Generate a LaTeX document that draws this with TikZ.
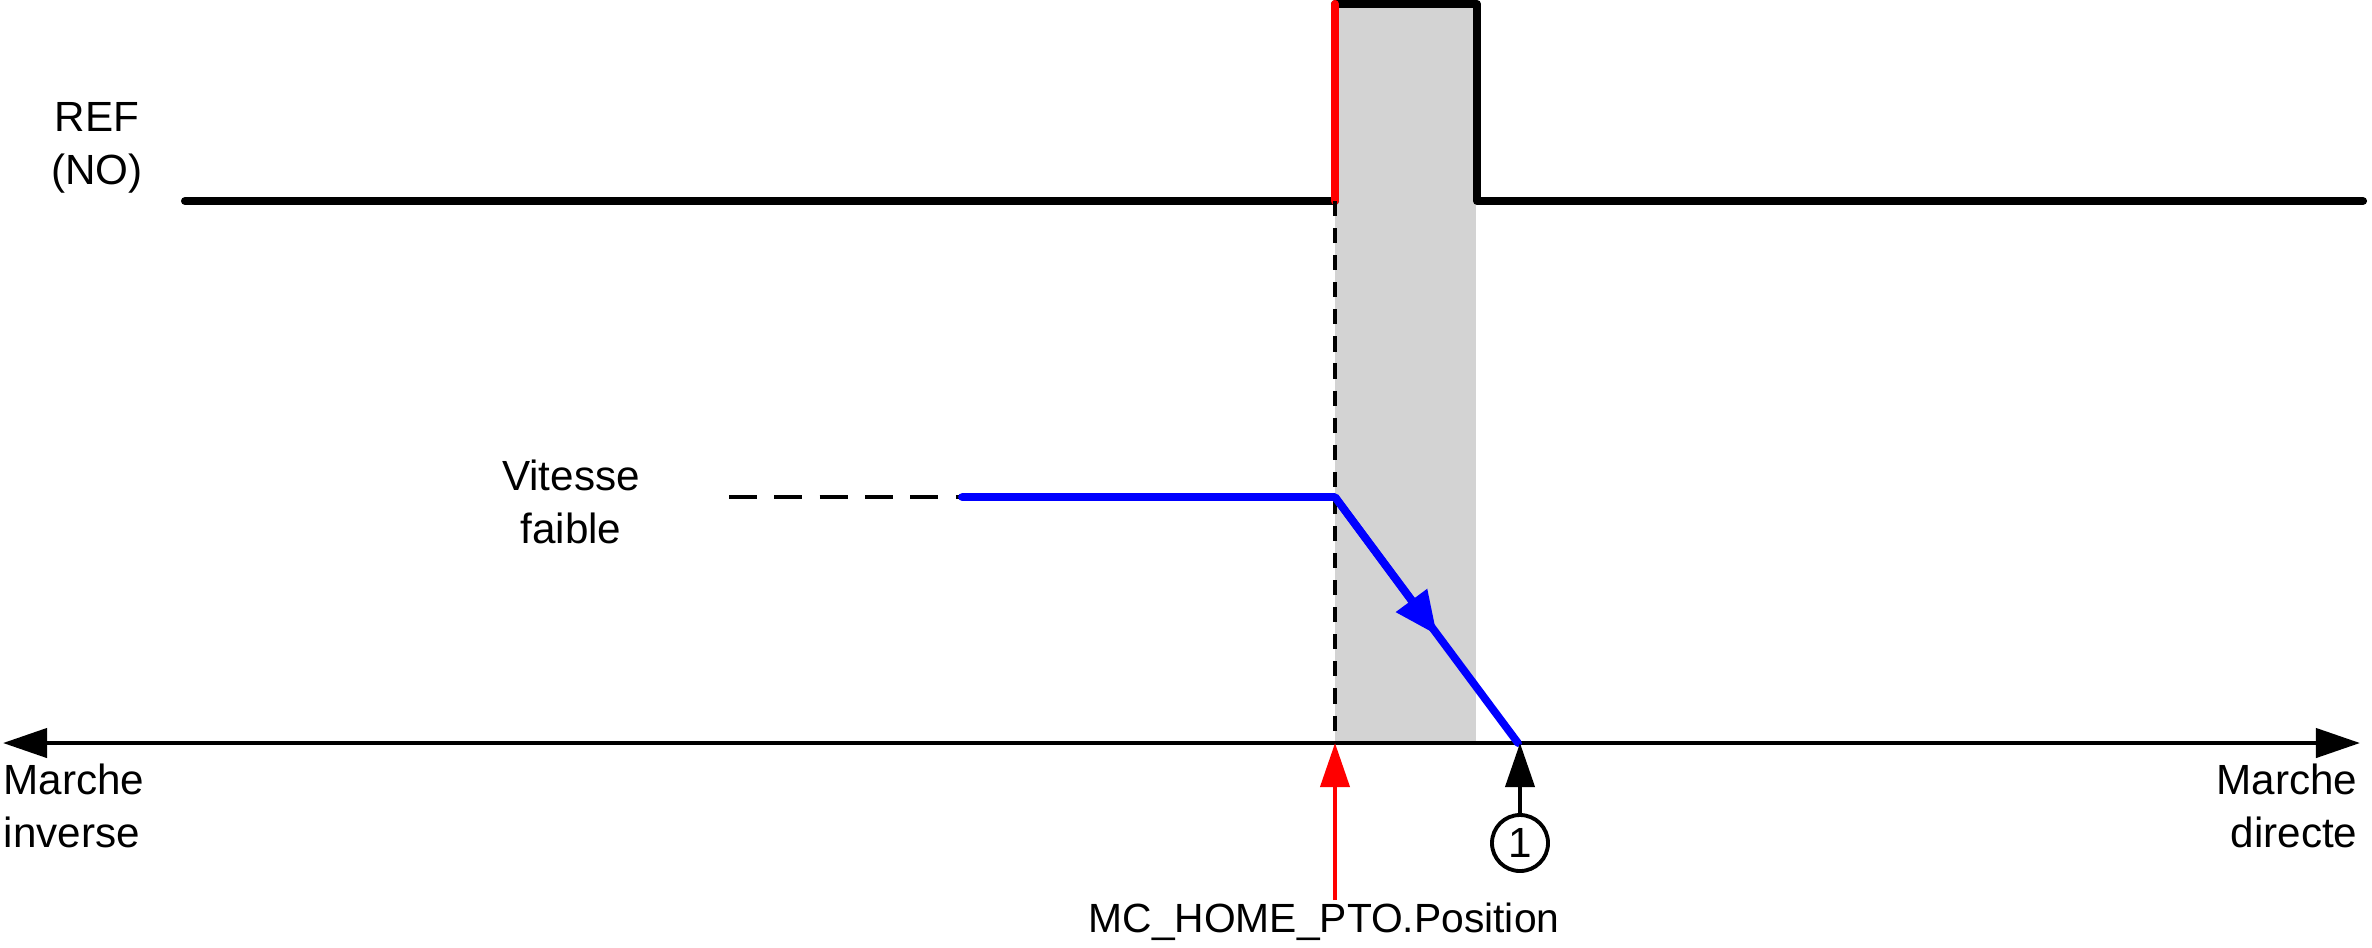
\documentclass[tikz,border=0pt]{standalone}
\usepackage{fontspec}
\setmainfont{Liberation Sans}
\usetikzlibrary{arrows.meta}
\definecolor{zone}{RGB}{211,211,211}

\begin{document}
\begin{tikzpicture}[x=0.01cm, y=-0.01cm, font=\fontsize{12}{15}\selectfont,
	sig/.style = {line width=2.3pt, line join=round, line cap=round},
	tip/.style = {-{Triangle[length=0.44cm, width=0.29cm]}},
	lbl/.style = {align=center, inner sep=0pt}]
		\useasboundingbox (0,0) rectangle (2372,947);
		\fill[zone] (1335,4) rectangle (1476,743);
		% REF signal
		\coordinate (r0) at (185,201);
		\coordinate (rup) at (1335,201);
		\coordinate (rtop) at (1335,4);
		\coordinate (rtopend) at (1477,4);
		\coordinate (rdown) at (1477,201);
		\coordinate (r1) at (2363,201);
		\draw[sig] (r0) -- (rup);
		\draw[sig] (rtop) -- (rtopend) -- (rdown) -- (r1);
		\draw[sig, red] (rup) -- (rtop);
		% axis
		\coordinate (al) at (3,743);
		\coordinate (ar) at (2360,743);
		\coordinate (h0) at (1335,743);
		\coordinate (p1) at (1520,743);
		\draw[line width=1.2pt, {Triangle[length=0.44cm, width=0.29cm]}-{Triangle[length=0.44cm, width=0.29cm]}] (al) -- (ar);
		\draw[line width=0.95pt, dash pattern=on 4.3pt off 3.4pt] (rup) -- (h0);
		% speed
		\coordinate (s0) at (729,497);
		\coordinate (v0) at (962,497);
		\coordinate (vk) at (1335,497);
		\coordinate (vmid) at (1437,635);
		\coordinate (vend) at (1518,743);
		\draw[line width=1.3pt, dash pattern=on 7.9pt off 5pt] (s0) -- (v0);
		\draw[sig, blue, line width=2.2pt] (v0) -- (vk) -- (vend);
		\draw[blue, line width=2.2pt, -{Triangle[length=0.43cm, width=0.37cm]}] (vk) -- (vmid);
		% labels
		\node[lbl] (ref) at (97,148) {REF\\(NO)};
		\node[lbl] (slow) at (571,502) {Vitesse\\faible};
		\node[lbl, anchor=west, align=left] (inv) at (3,806) {Marche\\inverse};
		\node[lbl, anchor=east, align=right] (dir) at (2358,806) {Marche\\directe};
		\node[lbl, anchor=base, font=\fontsize{11.6}{14}\selectfont] (home) at (1324,932) {MC\_HOME\_PTO.Position};
		\node[draw, circle, line width=1.1pt, minimum size=0.56cm, inner sep=0pt] (one) at (1520,843) {1};
		\coordinate (hb) at (1335,900);
		\draw[red, line width=1.15pt, tip] (hb) -- (h0);
		\draw[line width=1.15pt, tip] (one) -- (p1);
	\end{tikzpicture}
\end{document}
